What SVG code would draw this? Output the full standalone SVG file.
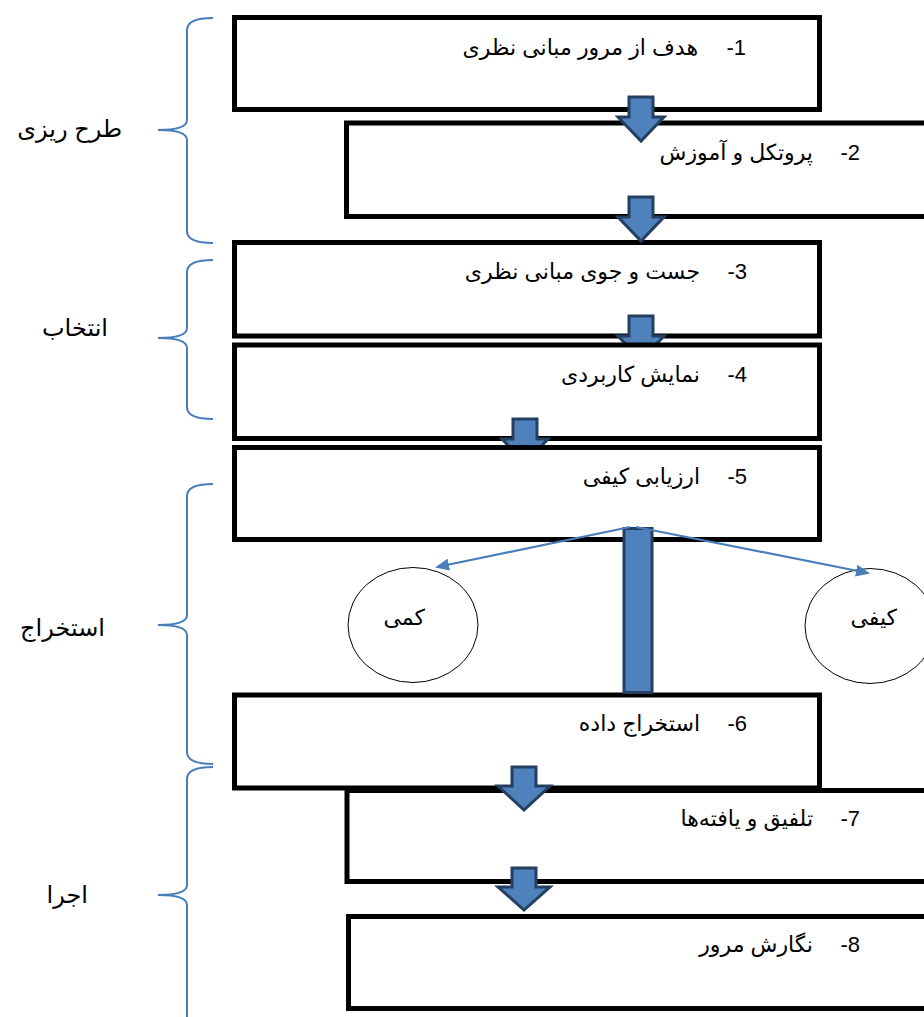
<svg xmlns="http://www.w3.org/2000/svg" width="924" height="1017" viewBox="0 0 924 1017">
<style>
.box{fill:#fff;stroke:#000;stroke-width:5}
.blk{fill:#4f81bd;stroke:#243f60;stroke-width:3;stroke-linejoin:miter}
.brace{fill:none;stroke:#4a7ebb;stroke-width:2}
.ln{fill:none;stroke:#4a7ebb;stroke-width:2.2}
.ell{fill:#fff;stroke:#000;stroke-width:1}
text{font-family:"Liberation Sans","DejaVu Sans",sans-serif;font-size:22px;fill:#000}
.num{font-size:22px}
.side{font-size:24px}
</style>
<defs>
<marker id="ah" markerUnits="userSpaceOnUse" markerWidth="14" markerHeight="12" refX="12" refY="6" orient="auto">
<path d="M0,0 L14,6 L0,12 Z" fill="#4a7ebb"/>
</marker>
</defs>
<rect width="924" height="1017" fill="#fff"/>

<g id="braces">
<path class="brace" d="M213,18 Q187,18 187,30 L187,120 Q187,130 158,130 Q187,130 187,140 L187,231 Q187,243 213,243"/>
<path class="brace" d="M213,260 Q187,260 187,272 L187,328 Q187,338 158,338 Q187,338 187,348 L187,407 Q187,419 213,419"/>
<path class="brace" d="M213,484 Q187,484 187,496 L187,615 Q187,625 158,625 Q187,625 187,635 L187,752 Q187,764 213,764"/>
<path class="brace" d="M213,767 Q187,767 187,779 L187,885 Q187,895 158,895 Q187,895 187,905 L187,1017"/>
</g>

<g id="labels">
<text class="side" x="122" y="137" text-anchor="end">طرح ریزی</text>
<text class="side" x="108" y="336" text-anchor="end">انتخاب</text>
<text class="side" x="105" y="636" text-anchor="end">استخراج</text>
<text class="side" x="88" y="903" text-anchor="end">اجرا</text>
</g>

<g id="node1">
<rect class="box" x="234.5" y="17.5" width="585" height="92"/>
<text x="698" y="55" text-anchor="end">هدف از مرور مبانی نظری</text>
<text class="num" x="746" y="55" text-anchor="end">-1</text>
</g>
<g id="node2">
<rect class="box" x="346.5" y="123" width="600" height="93.5"/>
<text x="813" y="160" text-anchor="end">پروتکل و آموزش</text>
<text class="num" x="860" y="160" text-anchor="end">-2</text>
</g>
<g id="node3">
<rect class="box" x="234.5" y="242.5" width="585" height="93.5"/>
<text x="700" y="279" text-anchor="end">جست و جوی مبانی نظری</text>
<text class="num" x="747" y="279" text-anchor="end">-3</text>
</g>

<g id="conn-a">
<path class="blk" d="M629,97 H653 V117 H664 L641,141 L618,117 H629 Z"/>
<path class="blk" d="M629,197 H653 V217 H664 L641,241 L618,217 H629 Z"/>
<path class="blk" d="M629,316 H653 V336 H664 L641,360 L618,336 H629 Z"/>
</g>

<g id="node4">
<rect class="box" x="234.5" y="345" width="585" height="93.5"/>
<text x="700" y="382" text-anchor="end">نمایش کاربردی</text>
<text class="num" x="747" y="382" text-anchor="end">-4</text>
</g>

<g id="conn-b">
<path class="blk" d="M513,419 H537 V439 H548 L525,463 L502,439 H513 Z"/>
</g>

<g id="node5">
<rect class="box" x="234.5" y="447.5" width="585" height="92"/>
<text x="700" y="484" text-anchor="end">ارزیابی کیفی</text>
<text class="num" x="747" y="484" text-anchor="end">-5</text>
</g>

<g id="node-kami">
<ellipse class="ell" cx="413" cy="625" rx="65" ry="57.5"/>
<text x="425" y="625" text-anchor="end">کمی</text>
</g>
<g id="node-keyfi">
<ellipse class="ell" cx="870" cy="626" rx="65" ry="57.5"/>
<text x="897" y="625" text-anchor="end">کیفی</text>
</g>

<g id="node6">
<rect class="box" x="234.5" y="695" width="585" height="93"/>
<text x="700" y="731" text-anchor="end">استخراج داده</text>
<text class="num" x="747" y="731" text-anchor="end">-6</text>
</g>
<g id="node7">
<rect class="box" x="347" y="790.5" width="600" height="91"/>
<text x="813" y="826" text-anchor="end">تلفیق و یافته‌ها</text>
<text class="num" x="860" y="826" text-anchor="end">-7</text>
</g>
<g id="node8">
<rect class="box" x="348.5" y="916.5" width="600" height="92"/>
<text x="813" y="952" text-anchor="end">نگارش مرور</text>
<text class="num" x="860" y="952" text-anchor="end">-8</text>
</g>

<g id="connectors">
<rect class="blk" x="624" y="528.5" width="28" height="164" stroke-width="4"/>
<line class="ln" x1="630" y1="527" x2="437" y2="567" marker-end="url(#ah)"/>
<line class="ln" x1="636" y1="527" x2="868" y2="573" marker-end="url(#ah)"/>
<path class="blk" d="M512,767 H536 V786 H550 L524,810 L498,786 H512 Z"/>
<path class="blk" d="M512,868 H536 V887 H550 L524,910 L498,887 H512 Z"/>
</g>
</svg>
